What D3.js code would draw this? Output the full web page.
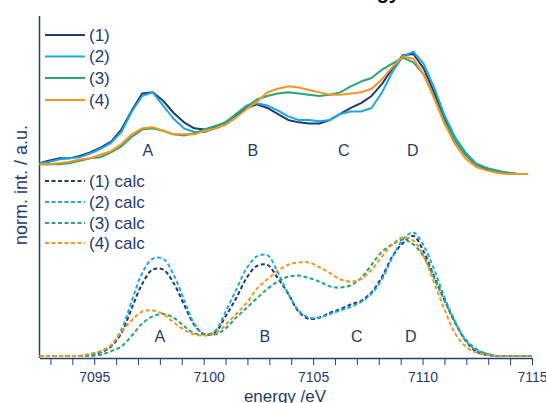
<!DOCTYPE html>
<html><head><meta charset="utf-8">
<script src="https://cdn.jsdelivr.net/npm/d3@7"></script>
<style>
html,body{margin:0;padding:0;background:#fff;}
svg{display:block;font-family:"Liberation Sans",Arial,sans-serif;}
</style></head>
<body><svg id="c" width="546" height="403"></svg>
<script>
// energies (eV)
const energies = [7092.5,7092.91,7093.38,7093.86,7094.34,7094.81,7095.29,7095.77,7096.24,7096.72,
7097.19,7097.67,7098.15,7098.62,7099.10,7099.57,7100.05,7100.53,7101.00,7101.48,
7101.96,7102.43,7102.91,7103.38,7103.86,7104.34,7104.81,7105.29,7105.77,7106.24,
7106.72,7107.19,7107.67,7108.15,7108.62,7109.10,7109.58,7110.05,7110.53,7111.00,
7111.48,7111.96,7112.43,7112.91,7113.39,7113.86,7114.34,7114.82,7115];

// experimental spectra (normalized, before vertical offset)
const exp1 = [0.09,0.11,0.13,0.13,0.15,0.18,0.22,0.27,0.37,0.53,
0.67,0.68,0.61,0.51,0.43,0.38,0.37,0.39,0.43,0.49,
0.55,0.58,0.55,0.50,0.45,0.43,0.42,0.42,0.45,0.50,
0.55,0.59,0.65,0.75,0.88,0.99,1.00,0.88,0.68,0.46,
0.28,0.16,0.08,0.04,0.02,0.01,0,0];
const exp2 = [0.09,0.10,0.12,0.13,0.14,0.17,0.21,0.26,0.35,0.52,
0.65,0.68,0.57,0.46,0.38,0.35,0.35,0.38,0.42,0.50,
0.57,0.59,0.57,0.53,0.48,0.45,0.45,0.44,0.45,0.50,
0.52,0.52,0.55,0.68,0.85,0.98,1.02,0.92,0.72,0.49,
0.31,0.18,0.09,0.05,0.02,0.01,0,0];
const exp3 = [0.08,0.08,0.08,0.09,0.11,0.13,0.14,0.18,0.23,0.31,
0.37,0.38,0.36,0.33,0.32,0.34,0.37,0.40,0.43,0.50,
0.56,0.62,0.65,0.67,0.68,0.67,0.66,0.65,0.66,0.68,
0.73,0.77,0.80,0.87,0.92,0.97,0.93,0.83,0.64,0.44,
0.28,0.16,0.08,0.05,0.03,0.01,0,0];
const exp4 = [0.08,0.08,0.09,0.10,0.12,0.13,0.16,0.19,0.25,0.33,
0.38,0.39,0.36,0.33,0.33,0.33,0.36,0.38,0.41,0.47,
0.54,0.60,0.68,0.71,0.73,0.72,0.70,0.68,0.66,0.66,
0.67,0.68,0.71,0.79,0.89,0.98,0.96,0.83,0.63,0.42,
0.25,0.13,0.06,0.03,0.01,0,0,0];
const expOffset = 1.517;

// calculated spectra
const calc1 = [0,0,0,0,0,0.01,0.03,0.08,0.19,0.40,
0.60,0.72,0.72,0.61,0.43,0.26,0.18,0.20,0.33,0.48,
0.65,0.75,0.76,0.65,0.52,0.37,0.31,0.32,0.36,0.39,
0.43,0.46,0.53,0.66,0.83,0.94,1.00,0.87,0.66,0.47,
0.28,0.13,0.04,0.01,0,0,0,0,0];
const calc2 = [0,0,0,0,0,0.01,0.04,0.09,0.22,0.46,
0.69,0.81,0.81,0.68,0.47,0.27,0.18,0.21,0.37,0.55,
0.73,0.83,0.84,0.70,0.52,0.38,0.32,0.32,0.35,0.38,
0.41,0.45,0.52,0.64,0.82,0.97,1.03,0.92,0.72,0.49,
0.29,0.13,0.05,0.02,0,0,0,0,0];
const calc3 = [0,0,0,0,0,0,0.01,0.04,0.08,0.17,
0.27,0.33,0.35,0.32,0.25,0.19,0.18,0.18,0.23,0.32,
0.40,0.48,0.56,0.62,0.66,0.67,0.65,0.62,0.58,0.57,
0.59,0.65,0.76,0.87,0.93,0.97,0.93,0.83,0.65,0.46,
0.28,0.14,0.06,0.02,0,0,0,0,0];
const calc4 = [0,0,0,0,0,0.02,0.04,0.09,0.20,0.30,
0.37,0.38,0.35,0.28,0.22,0.18,0.17,0.19,0.26,0.35,
0.44,0.56,0.64,0.71,0.76,0.78,0.78,0.74,0.69,0.64,
0.62,0.64,0.72,0.83,0.93,0.99,0.96,0.83,0.61,0.39,
0.19,0.08,0.03,0.01,0,0,0,0,0];

const seriesNames = ["(1)","(2)","(3)","(4)"];
const calcNames = ["(1) calc","(2) calc","(3) calc","(4) calc"];
const colors = ["#203a72","#1ca8e4","#27a576","#f7931e"];
const xTicks = d3.range(7093, 7116);
const peakLabels = ["A","B","C","D"];
const peakEnergiesTop = [7097.45, 7102.25, 7106.4, 7109.55];
const peakEnergiesBottom = [7098.0, 7102.8, 7107.0, 7109.46];
const peakValTop = 0.15;   // relative to offset baseline
const peakValBottom = 0.115;

const svg = d3.select("#c");
const axisColor = "#22407a";
const textColor = "#1f3a6e";

const x = d3.scaleLinear().domain([7092.5, 7115]).range([39.5, 532]);
const y = d3.scaleLinear().domain([0, 2.85]).range([356, 14]);

// title fragment (cropped at top)
svg.append("text").attr("x", 400).attr("y", -1.5).attr("text-anchor","end")
  .attr("font-size", 20).attr("font-weight","bold").attr("fill","#000").text("energy");

// x axis
const xAxis = d3.axisBottom(x).tickValues(xTicks).tickSize(7).tickSizeOuter(0).tickPadding(7)
  .tickFormat(d => d % 5 === 0 ? d : "");
const gx = svg.append("g").attr("transform","translate(0,358)").call(xAxis);
gx.select(".domain").attr("stroke", axisColor).attr("stroke-width", 1.5);
gx.selectAll(".tick line").attr("stroke", axisColor).attr("stroke-width", 1);
gx.selectAll(".tick text").attr("fill", textColor).attr("font-size", 14)
  .attr("font-family","'Liberation Sans',Arial,sans-serif");
gx.selectAll(".tick text").filter(d => d === 7100).attr("dx", 5);

// y axis line
svg.append("line").attr("x1", 39.5).attr("x2", 39.5).attr("y1", 16).attr("y2", 358)
  .attr("stroke", axisColor).attr("stroke-width", 1.5);

// axis titles
svg.append("text").attr("x", 285).attr("y", 401.5).attr("text-anchor","middle")
  .attr("font-size", 17).attr("fill", textColor).text("energy /eV");
svg.append("text").attr("transform","translate(26.5,185) rotate(-90)").attr("text-anchor","middle")
  .attr("font-size", 18).attr("fill", textColor).text("norm. int. / a.u.");

// calc curves (dashed)
const calcData = [calc1, calc2, calc3, calc4];
const lineCalc = d3.line().x(d => x(d[0])).y(d => y(d[1])).curve(d3.curveCatmullRom.alpha(0.5));
calcData.forEach((vals, i) => {
  const pts = vals.map((v, j) => [energies[j], v]);
  svg.append("path").datum(pts).attr("d", lineCalc).attr("fill","none")
    .attr("stroke", colors[i]).attr("stroke-width", 2).attr("stroke-dasharray","4,2.5");
});

// experimental curves
const expData = [exp1, exp2, exp3, exp4];
const lineExp = d3.line().x(d => x(d[0])).y(d => y(d[1] + expOffset));
expData.forEach((vals, i) => {
  const pts = vals.map((v, j) => [energies[j], v]);
  svg.append("path").datum(pts).attr("d", lineExp).attr("fill","none")
    .attr("stroke", colors[i]).attr("stroke-width", 2).attr("stroke-linejoin","round");
});

// peak letters
peakLabels.forEach((l, i) => {
  svg.append("text").attr("x", x(peakEnergiesTop[i])).attr("y", y(peakValTop + expOffset))
    .attr("text-anchor","middle").attr("font-size", 16).attr("fill", textColor).text(l);
  svg.append("text").attr("x", x(peakEnergiesBottom[i])).attr("y", y(peakValBottom))
    .attr("text-anchor","middle").attr("font-size", 16).attr("fill", textColor).text(l);
});

// legends
const legExpY = [35, 56.5, 78, 100];
const legCalcY = [181, 202, 223, 243];
seriesNames.forEach((n, i) => {
  svg.append("line").attr("x1", 45).attr("x2", 85).attr("y1", legExpY[i]).attr("y2", legExpY[i])
    .attr("stroke", colors[i]).attr("stroke-width", 2);
  svg.append("text").attr("x", 89).attr("y", legExpY[i]).attr("dy","0.35em")
    .attr("font-size", 17).attr("fill", textColor).text(n);
});
calcNames.forEach((n, i) => {
  svg.append("line").attr("x1", 45).attr("x2", 85).attr("y1", legCalcY[i]).attr("y2", legCalcY[i])
    .attr("stroke", colors[i]).attr("stroke-width", 2).attr("stroke-dasharray","4,2.5");
  svg.append("text").attr("x", 89).attr("y", legCalcY[i]).attr("dy","0.35em")
    .attr("font-size", 17).attr("fill", textColor).text(n);
});
</script></body></html>
